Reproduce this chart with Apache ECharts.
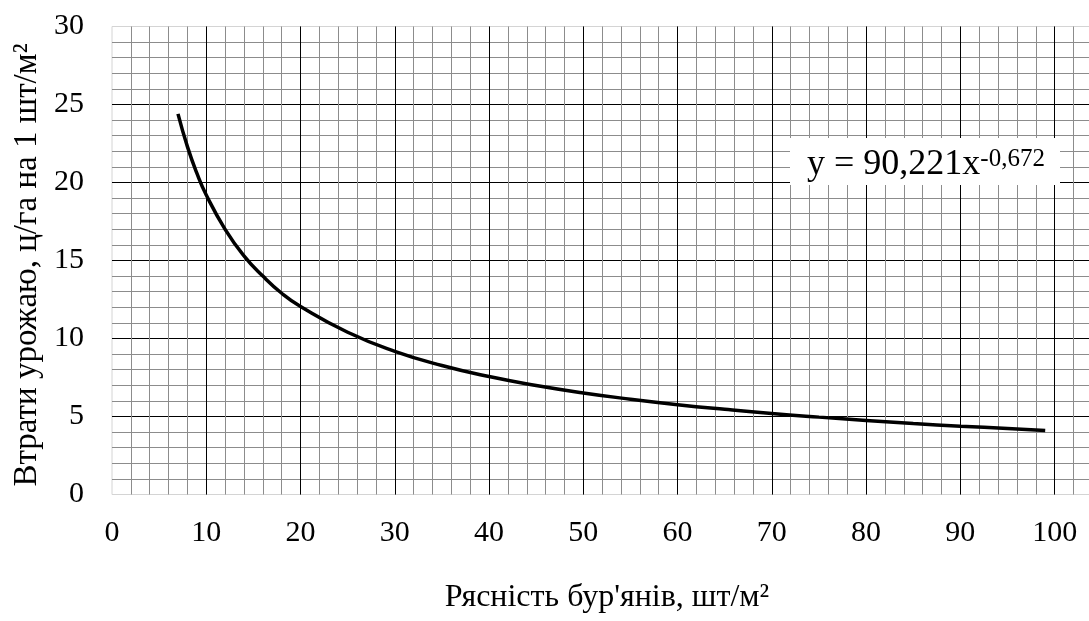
<!DOCTYPE html>
<html>
<head>
<meta charset="utf-8">
<script src="https://cdn.jsdelivr.net/npm/echarts@6/dist/echarts.min.js"></script>
<style>
html,body{margin:0;padding:0;background:#fff;}
#chart{width:1089px;height:621px;}
</style>
</head>
<body>
<div id="chart"></div>
<script>
// Values
const weedDensity = [7, 8, 9, 10, 12, 14, 16, 18, 20, 25, 30, 35, 40, 45, 50, 55, 60, 65, 70, 75, 80, 85, 90, 95, 99];
const yieldLoss   = [24.4, 22.3, 20.6, 19.2, 17.0, 15.3, 14.0, 12.9, 12.05, 10.4, 9.18, 8.27, 7.56, 6.99, 6.51, 6.11, 5.76, 5.46, 5.19, 4.96, 4.75, 4.55, 4.38, 4.23, 4.11];
const xTickLabels = [0, 10, 20, 30, 40, 50, 60, 70, 80, 90, 100];
const yTickLabels = [0, 5, 10, 15, 20, 25, 30];
const xAxisTitle = "Рясність бур'янів, шт/м²";
const yAxisTitle = "Втрати урожаю, ц/га на 1 шт/м²";
const eqMain = "y = 90,221x";
const eqExp = "-0,672";

const FONT = "'Liberation Serif', 'Times New Roman', serif";
const XMAX = 104.6;

const chart = echarts.init(document.getElementById('chart'), null, {renderer: 'canvas'});
const seriesData = weedDensity.map((x, i) => [x, yieldLoss[i]]);

const minorSplit = {show: true, showMinLine: false, showMaxLine: false, lineStyle: {color: '#8c8c8c', width: 1}};
const majorSplit = {show: true, showMinLine: false, showMaxLine: false, lineStyle: {color: '#000', width: 1}};

chart.setOption({
  animation: false,
  backgroundColor: '#fff',
  grid: {left: 112, width: 986, top: 26.5, bottom: 126.5, containLabel: false, outerBoundsMode: 'none',
         show: true, borderColor: '#d4d4d4', borderWidth: 1, backgroundColor: 'transparent'},
  xAxis: [
    {type: 'value', min: 0, max: XMAX, interval: 2, gridIndex: 0,
     axisLine: {show: false}, axisTick: {show: false}, axisLabel: {show: false},
     splitLine: minorSplit},
    {type: 'value', min: 0, max: XMAX, interval: 10, gridIndex: 0, position: 'bottom',
     axisLine: {show: false}, axisTick: {show: false},
     axisLabel: {show: true, margin: 24, color: '#000', fontFamily: FONT, fontSize: 30,
       formatter: v => (xTickLabels.indexOf(v) >= 0 ? String(v) : '')},
     splitLine: majorSplit}
  ],
  yAxis: [
    {type: 'value', min: 0, max: 30, interval: 1,
     axisLine: {show: false}, axisTick: {show: false}, axisLabel: {show: false},
     splitLine: minorSplit},
    {type: 'value', min: 0, max: 30, interval: 5, position: 'left',
     axisLine: {show: false}, axisTick: {show: false},
     axisLabel: {show: true, margin: 28, color: '#000', fontFamily: FONT, fontSize: 30,
       formatter: v => (yTickLabels.indexOf(v) >= 0 ? String(v) : '')},
     splitLine: majorSplit}
  ],
  series: [{
    type: 'line', xAxisIndex: 0, yAxisIndex: 0,
    data: seriesData, smooth: true, showSymbol: false,
    lineStyle: {color: '#000', width: 3.5}, z: 10
  }],
  graphic: [
    {type: 'text', x: 607, y: 598, z: 100,
     style: {text: xAxisTitle, fill: '#000', font: "32px " + FONT, align: 'center', verticalAlign: 'middle'}},
    {type: 'text', x: 27, y: 265, rotation: Math.PI / 2, z: 100,
     style: {text: yAxisTitle, fill: '#000', font: "33px " + FONT, align: 'center', verticalAlign: 'middle'}},
    {type: 'rect', shape: {x: 790, y: 138, width: 270, height: 47}, style: {fill: '#fff'}, z: 50},
    {type: 'text', x: 807, y: 165, z: 60,
     style: {text: '{a|' + eqMain + '}{b|' + eqExp + '}', verticalAlign: 'middle', fill: '#000',
       rich: {a: {fontSize: 36, fontFamily: FONT, fill: '#000'},
              b: {fontSize: 25, fontFamily: FONT, fill: '#000', verticalAlign: 'top'}}}}
  ]
});
</script>
</body>
</html>
